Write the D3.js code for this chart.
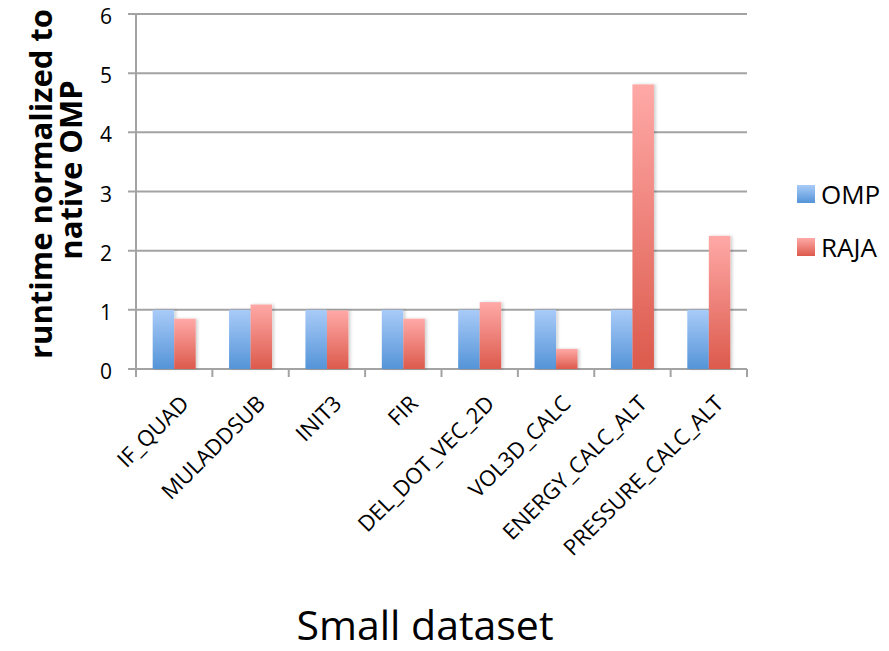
<!DOCTYPE html>
<html><head><meta charset="utf-8">
<script src="https://cdn.jsdelivr.net/npm/d3@7"></script>
<style>body{margin:0;background:#fff;} text{font-family:"Open Sans",Lato,sans-serif;}</style>
</head><body>
<svg id="c" width="889" height="651"></svg>
<script>
const categories = ["IF_QUAD","MULADDSUB","INIT3","FIR","DEL_DOT_VEC_2D","VOL3D_CALC","ENERGY_CALC_ALT","PRESSURE_CALC_ALT"];
const seriesNames = ["OMP","RAJA"];
const ompValues = [1,1,1,1,1,1,1,1];
const rajaValues = [0.85,1.09,0.99,0.85,1.13,0.34,4.81,2.25];
const yTicks = [0,1,2,3,4,5,6];

const svg = d3.select("#c");
const m = {l:136, r:747, t:14, b:369};
const x0 = d3.scaleBand().domain(categories).range([m.l, m.r]).padding(0);
const x1 = d3.scaleBand().domain(seriesNames).range([0, 43]);
const y = d3.scaleLinear().domain([0,6]).range([m.b, m.t]);

const defs = svg.append("defs");
function grad(id, top, bot){
  const g = defs.append("linearGradient").attr("id",id).attr("x1",0).attr("y1",0).attr("x2",0).attr("y2",1);
  g.append("stop").attr("offset","0%").attr("stop-color",top);
  g.append("stop").attr("offset","100%").attr("stop-color",bot);
}
grad("gOMP","#a9cbf8","#5494d8");
grad("gRAJA","#ffa9a7","#dc5a4c");
const f = defs.append("filter").attr("id","sh").attr("x","-20%").attr("y","-5%").attr("width","150%").attr("height","110%");
f.append("feDropShadow").attr("dx",2).attr("dy",0).attr("stdDeviation",1.5).attr("flood-color","#000").attr("flood-opacity",0.18);

// gridlines
svg.append("g").selectAll("line").data(yTicks).join("line")
  .attr("x1", m.l-8).attr("x2", m.r).attr("y1", d=>y(d)).attr("y2", d=>y(d))
  .attr("stroke","#a3a3a3").attr("stroke-width",2);
// y axis line
svg.append("line").attr("x1",m.l).attr("x2",m.l).attr("y1",m.t).attr("y2",m.b+8).attr("stroke","#a3a3a3").attr("stroke-width",2);
// category ticks
const tickXs = categories.map(c=>x0(c)).concat([m.r]);
svg.append("g").selectAll("line").data(tickXs.slice(1)).join("line")
  .attr("x1",d=>d).attr("x2",d=>d).attr("y1",m.b).attr("y2",m.b+8).attr("stroke","#a3a3a3").attr("stroke-width",2);

// y tick labels
svg.append("g").selectAll("text").data(yTicks).join("text")
  .attr("x",112).attr("y",d=>y(d)+10).attr("text-anchor","end")
  .attr("font-size",21).attr("fill","#000").text(d=>d);

// bars
const data = categories.map((c,i)=>({c, vals:[{s:"OMP",v:ompValues[i]},{s:"RAJA",v:rajaValues[i]}]}));
const off = (x0.bandwidth()-43)/2;
const grp = svg.append("g").selectAll("g").data(data).join("g")
  .attr("transform", d=>`translate(${x0(d.c)+off},0)`);
grp.selectAll("rect").data(d=>d.vals).join("rect")
  .attr("x", d=>x1(d.s)).attr("width", x1.bandwidth())
  .attr("y", d=>y(d.v)).attr("height", d=>y(0)-y(d.v))
  .attr("fill", d=>`url(#g${d.s})`).attr("filter","url(#sh)");

// category labels
svg.append("g").selectAll("text").data(categories).join("text")
  .attr("transform", c=>`translate(${x0(c)+x0.bandwidth()/2+16},${m.b+36}) rotate(-45)`)
  .attr("text-anchor","end").attr("font-size",22).attr("fill","#000").text(c=>c);

// y axis title
svg.append("text").attr("transform","translate(52,184) rotate(-90)")
  .attr("text-anchor","middle").attr("font-size",31).attr("font-weight","bold").attr("fill","#000")
  .text("runtime normalized to");
svg.append("text").attr("transform","translate(82,170) rotate(-90)")
  .attr("text-anchor","middle").attr("font-size",31).attr("font-weight","bold").attr("fill","#000")
  .text("native OMP");

// x axis title
svg.append("text").attr("x",425).attr("y",640).attr("text-anchor","middle")
  .attr("font-size",41).attr("fill","#000").text("Small dataset");

// legend
const lg = svg.append("g").selectAll("g").data(seriesNames).join("g")
  .attr("transform",(d,i)=>`translate(797,${185+i*53})`);
lg.append("rect").attr("width",18).attr("height",18).attr("fill",d=>`url(#g${d})`);
lg.append("text").attr("x",24).attr("y",19).attr("font-size",26).attr("fill","#000").text(d=>d);
</script>
</body></html>
